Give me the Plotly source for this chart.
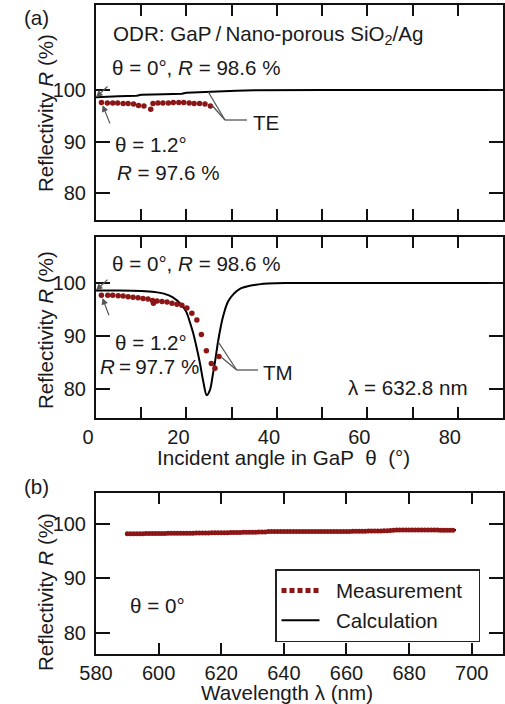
import plotly.graph_objects as go

# ---------------- data ----------------
# (a) TE, angle scan at 632.8 nm
te_calc_theta = [0, 2, 5, 9, 10, 15, 19, 20, 25, 30, 31, 35, 40, 50, 60, 70, 80, 90]
te_calc_R = [98.6, 98.7, 98.8, 98.9, 99.1, 99.2, 99.3, 99.5, 99.6, 99.7, 99.85, 99.95, 100.0, 100.0, 100.0, 100.0, 100.0, 100.0]
te_meas_theta = [1.2, 2.5, 3.7, 4.8, 6.0, 7.1, 8.3, 9.4, 10.6, 12.1, 12.6, 13.7, 14.8, 16.0,
                 17.1, 18.3, 19.4, 20.6, 21.7, 22.9, 24.1, 25.3]
te_meas_R = [97.6, 97.5, 97.5, 97.5, 97.4, 97.4, 97.3, 97.0, 96.9, 96.3, 97.4, 97.5, 97.5, 97.5,
             97.6, 97.6, 97.6, 97.5, 97.4, 97.4, 97.3, 96.9]

# (a) TM, angle scan at 632.8 nm
tm_calc_theta = [0, 5, 10, 13, 15, 17, 19, 20, 20.8, 21.5, 22.2, 23.0, 23.7, 24.5, 25.2, 25.8,
                 26.3, 27.0, 27.6, 28.2, 29.2, 30.5, 32, 34, 36, 38, 42, 50, 60, 70, 80, 90]
tm_calc_R = [98.6, 98.6, 98.5, 98.3, 98.0, 97.3, 95.8, 94.5, 92.5, 90.5, 88.0, 84.8, 81.5, 78.8,
             79.8, 82.5, 85.0, 89.0, 91.8, 94.0, 96.5, 98.0, 99.0, 99.5, 99.75, 99.9, 100.0,
             100.0, 100.0, 100.0, 100.0, 100.0]
tm_meas_theta = [1.2, 2.6, 3.7, 4.9, 6.0, 7.1, 8.2, 9.3, 10.4, 11.5, 12.5, 12.7, 13.5, 14.6,
                 15.7, 16.8, 17.9, 19.0, 20.1, 21.2, 22.3, 23.3, 24.4, 25.5, 26.3, 27.2]
tm_meas_R = [97.7, 97.7, 97.7, 97.6, 97.55, 97.4, 97.3, 97.2, 97.1, 97.0, 96.7, 96.2, 96.6, 96.5,
             96.4, 96.2, 96.0, 95.8, 95.3, 94.3, 93.0, 90.3, 87.2, 84.8, 83.9, 86.1]

# (b) wavelength scan at normal incidence
wl_meas = list(range(590, 695))
wl_meas_R = [98.2, 98.2, 98.2, 98.2, 98.2, 98.2, 98.25, 98.25, 98.25, 98.25,
             98.25, 98.25, 98.25, 98.3, 98.3, 98.3, 98.3, 98.3, 98.3, 98.3,
             98.3, 98.3, 98.35, 98.35, 98.35, 98.35, 98.35, 98.4, 98.4, 98.4,
             98.4, 98.4, 98.4, 98.45, 98.45, 98.45, 98.45, 98.5, 98.5, 98.5,
             98.5, 98.5, 98.55, 98.55, 98.55, 98.6, 98.6, 98.6, 98.6, 98.6,
             98.6, 98.6, 98.6, 98.6, 98.6, 98.6, 98.6, 98.6, 98.6, 98.6,
             98.6, 98.6, 98.6, 98.6, 98.6, 98.6, 98.6, 98.6, 98.6, 98.6,
             98.6, 98.6, 98.65, 98.65, 98.65, 98.65, 98.65, 98.7, 98.7, 98.7,
             98.7, 98.7, 98.75, 98.75, 98.8, 98.85, 98.9, 98.9, 98.9, 98.9,
             98.9, 98.9, 98.9, 98.9, 98.9, 98.9, 98.9, 98.9, 98.9, 98.9,
             98.85, 98.85, 98.85, 98.85, 98.85]
wl_calc = [590, 610, 630, 650, 670, 690, 695]
wl_calc_R = [98.25, 98.35, 98.5, 98.6, 98.7, 98.85, 98.9]

angle_ticks = [0, 10, 20, 30, 40, 50, 60, 70, 80, 90]
angle_ticktext = ["0", "", "20", "", "40", "", "60", "", "80", ""]
wl_ticks = [580, 600, 620, 640, 660, 680, 700]
wl_ticktext = ["580", "600", "620", "640", "660", "680", "700"]
R_ticks = [80, 90, 100]
R_ticktext = ["80", "90", "100"]

# ---------------- styling ----------------
W, H = 505, 704
FONT = "Liberation Sans, Arial, Helvetica, sans-serif"
TXT = "#1a1a1a"
RED = "#8c1515"
GRAY = "#555555"
FS = 20
FSA = 20.6


def px(x):
    return x / W


def py(y):
    return 1 - y / H


fig = go.Figure()

line_style = dict(color="black", width=2)
dot_style = dict(color=RED, size=5.5)

fig.add_trace(go.Scatter(x=te_calc_theta, y=te_calc_R, mode="lines", line=line_style,
                         xaxis="x", yaxis="y", showlegend=False, line_shape="linear"))
fig.add_trace(go.Scatter(x=te_meas_theta, y=te_meas_R, mode="markers", marker=dot_style,
                         xaxis="x", yaxis="y", showlegend=False))
fig.add_trace(go.Scatter(x=tm_calc_theta, y=tm_calc_R, mode="lines", line=line_style,
                         line_shape="spline", xaxis="x2", yaxis="y2", showlegend=False))
fig.add_trace(go.Scatter(x=tm_meas_theta, y=tm_meas_R, mode="markers", marker=dot_style,
                         xaxis="x2", yaxis="y2", showlegend=False))
# legend proxy for the dotted measurement symbol
fig.add_trace(go.Scatter(x=[None], y=[None], mode="lines",
                         name="\u00a0\u00a0Measurement\u00a0\u00a0",
                         line=dict(color=RED, width=5, dash="5px,3px"),
                         xaxis="x3", yaxis="y3", showlegend=True))
fig.add_trace(go.Scatter(x=wl_calc, y=wl_calc_R, mode="lines",
                         name="\u00a0\u00a0Calculation",
                         line=line_style, xaxis="x3", yaxis="y3", showlegend=True))
fig.add_trace(go.Scatter(x=wl_meas, y=wl_meas_R, mode="markers", marker=dict(color=RED, size=5),
                         xaxis="x3", yaxis="y3", showlegend=False))

xdom = [px(96), px(503)]
axis_common = dict(showline=True, linecolor="#111", linewidth=2, mirror="ticks",
                   ticks="inside", tickcolor="#111", tickwidth=2,
                   showgrid=False, zeroline=False, automargin=False,
                   tickfont=dict(family=FONT, size=FS, color=TXT))

fig.update_layout(
    template="none",
    width=W, height=H,
    margin=dict(l=0, r=0, t=0, b=0, pad=0, autoexpand=False),
    paper_bgcolor="white", plot_bgcolor="white",
    font=dict(family=FONT, size=FS, color=TXT),
    xaxis=dict(domain=xdom, range=[0, 90], tickvals=angle_ticks, ticktext=angle_ticktext,
               showticklabels=False, ticklen=11, anchor="y", **axis_common),
    yaxis=dict(domain=[py(220), py(5)], range=[74.8, 116.5], tickvals=R_ticks,
               ticktext=R_ticktext, ticklen=14, anchor="x", ticklabelstandoff=4, **axis_common),
    xaxis2=dict(domain=xdom, range=[0, 90], tickvals=angle_ticks, ticktext=angle_ticktext,
                ticklen=11, anchor="y2", ticklabelshift=-8, **axis_common),
    yaxis2=dict(domain=[py(418), py(237)], range=[74.5, 108.7], tickvals=R_ticks,
                ticktext=R_ticktext, ticklen=14, anchor="x2", ticklabelstandoff=4, **axis_common),
    xaxis3=dict(domain=xdom, range=[580, 710], tickvals=wl_ticks, ticktext=wl_ticktext,
                ticklen=11, anchor="y3", **axis_common),
    yaxis3=dict(domain=[py(654), py(493)], range=[76.1, 105.7], tickvals=R_ticks,
                ticktext=R_ticktext, ticklen=14, anchor="x3", ticklabelstandoff=4, **axis_common),
    legend=dict(x=px(275), y=py(569), xanchor="left", yanchor="top",
                bordercolor="#222", borderwidth=1.5, bgcolor="white",
                font=dict(family=FONT, size=FSA, color=TXT), itemwidth=38,
                traceorder="normal"),
)

ann = []


def text(x, y, s, anchor="left", angle=0, pad=1):
    ann.append(dict(x=px(x), y=py(y), xref="paper", yref="paper", text=s, showarrow=False,
                    xanchor=anchor, yanchor="middle", textangle=angle, borderpad=pad,
                    font=dict(family=FONT, size=FSA, color=TXT)))


text(22, 18, "(a)")
text(22, 486, "(b)")
ytitle = "Reflectivity <i>R</i> (%)"
text(45, 113, ytitle, anchor="center", angle=-90)
text(45, 330, ytitle, anchor="center", angle=-90)
text(45, 592, ytitle, anchor="center", angle=-90)
text(283, 458, "Incident angle in GaP\u00a0\u00a0\u03b8\u00a0\u00a0(\u00b0)", anchor="center")
text(287, 692, "Wavelength \u03bb (nm)", anchor="center", pad=0)

# panel 1 texts
text(111, 35, "ODR: GaP\u2009/\u2009Nano-porous SiO<sub>2</sub>/Ag")
text(110, 68, "\u03b8 = 0\u00b0, <i>R</i> = 98.6 %")
text(113, 145, "\u03b8 = 1.2\u00b0")
text(115, 172, "<i>R</i> = 97.6 %")
text(251, 122, "TE")
# panel 2 texts
text(110, 263, "\u03b8 = 0\u00b0, <i>R</i> = 98.6 %")
text(113, 342, "\u03b8 = 1.2\u00b0")
text(98, 366, "<i>R</i>\u2009=\u200997.7 %")
text(261, 372, "TM")
text(346, 387, "\u03bb = 632.8 nm")
# panel 3 texts
text(128, 605, "\u03b8 = 0\u00b0")


def arrow(xref, yref, x, y, ax, ay, standoff=0):
    ann.append(dict(x=x, y=y, xref=xref, yref=yref, ax=ax, ay=ay, axref="pixel", ayref="pixel",
                    text=" ", showarrow=True, arrowhead=2, arrowsize=1.1, arrowwidth=1.2,
                    arrowcolor=GRAY, standoff=standoff))


arrow("x", "y", te_calc_theta[0], te_calc_R[0], 16, -15)
arrow("x", "y", te_meas_theta[0], te_meas_R[0], 13, 32, standoff=3)
arrow("x2", "y2", tm_calc_theta[0], tm_calc_R[0], 16, -15)
arrow("x2", "y2", tm_meas_theta[0], tm_meas_R[0], 12, 32, standoff=3)

fig.update_layout(annotations=ann)

# callout lines for TE / TM labels
shapes = []


def seg(x0, y0, x1, y1):
    shapes.append(dict(type="line", xref="paper", yref="paper", x0=px(x0), y0=py(y0),
                       x1=px(x1), y1=py(y1), line=dict(color=GRAY, width=1.3)))


seg(208.3, 92.0, 225, 120)
seg(211.7, 105, 225, 120)
seg(225, 120, 247, 120)
seg(218.3, 342, 236.7, 370)
seg(221.7, 357.5, 236.7, 370)
seg(236.7, 370, 258, 370)
fig.update_layout(shapes=shapes)

fig.write_html("out.html")
